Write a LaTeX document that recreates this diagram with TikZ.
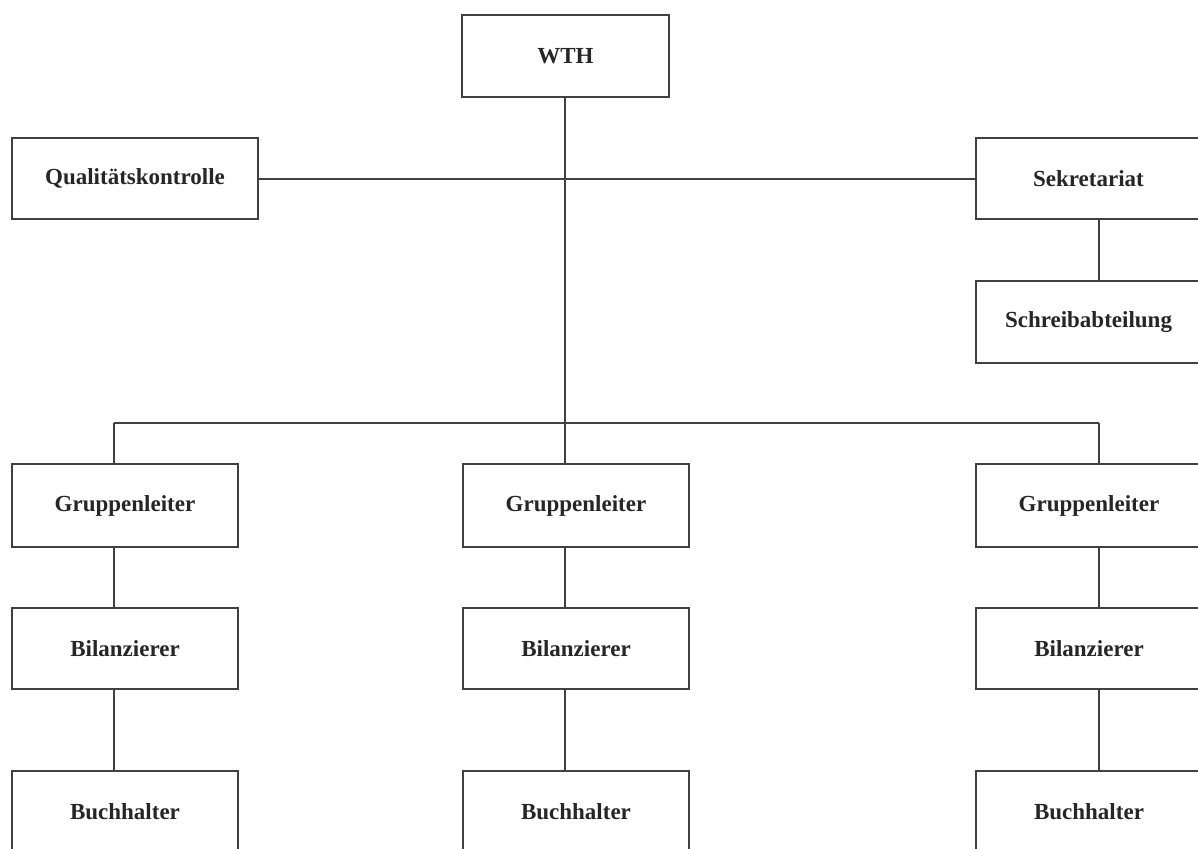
\documentclass[tikz,border=0pt]{standalone}
\usepackage{fontspec}
\setmainfont{Liberation Serif}
\begin{document}
\begin{tikzpicture}[x=1pt,y=-1pt,
  box/.style={draw=black!75,line width=2pt,fill=white,inner sep=0pt,align=center,
    font=\fontsize{23}{27}\selectfont\bfseries,text=black!85},
  conn/.style={draw=black!75,line width=2pt}]
\useasboundingbox (0,0) rectangle (1198,848);
\clip (0,0) rectangle (1198,848);
\fill[white] (0,0) rectangle (1198,848);
% x positions of the vertical connectors, y of the bar
\coordinate (cL) at (114,0);
\coordinate (cM) at (565,0);
\coordinate (cR) at (1099,0);
\coordinate (bar) at (0,423);
% nodes
\node[box,minimum width=207pt,minimum height=82pt] (wth) at (565.5,56) {WTH};
\node[box,minimum width=246pt,minimum height=81pt] (qk) at (135,178.5) {Qualitätskontrolle};
\node[box,minimum width=226pt,minimum height=81pt] (sek) at (1088.5,178.5) {Sekretariat};
\node[box,minimum width=226pt,minimum height=82pt] (sch) at (1088.5,322) {Schreibabteilung};
\foreach \n/\x in {1/125,2/576,3/1089}{
  \node[box,minimum width=226pt,minimum height=83pt] (gl\n) at (\x,505.5) {Gruppenleiter};
  \node[box,minimum width=226pt,minimum height=81pt] (bi\n) at (\x,648.5) {Bilanzierer};
  \node[box,minimum width=226pt,minimum height=82pt] (bu\n) at (\x,812) {Buchhalter};
}
% connectors
\draw[conn] (qk.east) -- (sek.west);
\draw[conn] (wth.south -| cM) -- (bar -| cM);
\draw[conn] (bar -| cL) -- (bar -| cR);
\draw[conn] (sek.south -| cR) -- (sch.north -| cR);
\foreach \n/\c in {1/cL,2/cM,3/cR}{
  \draw[conn] (bar -| \c) -- (gl\n.north -| \c);
  \draw[conn] (gl\n.south -| \c) -- (bi\n.north -| \c);
  \draw[conn] (bi\n.south -| \c) -- (bu\n.north -| \c);
}
\end{tikzpicture}
\end{document}
